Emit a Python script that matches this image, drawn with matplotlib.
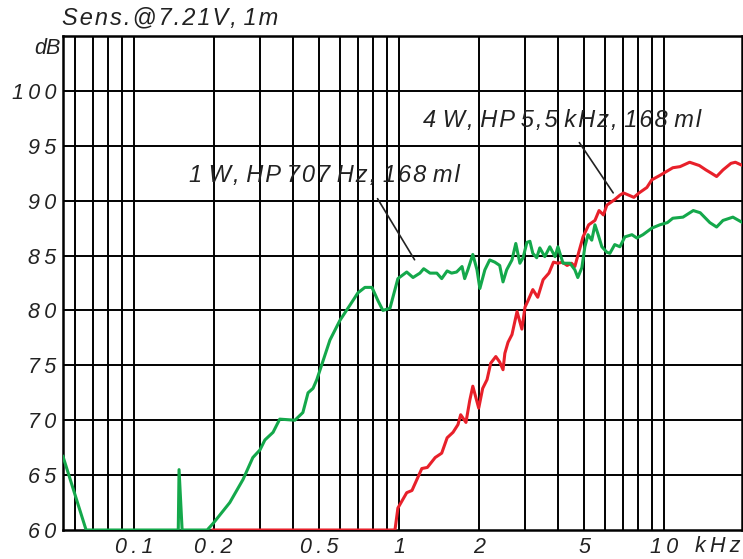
import numpy as np
import matplotlib.pyplot as plt
from matplotlib.ticker import FixedLocator, NullFormatter, NullLocator

plt.rcParams['font.family'] = ['Liberation Sans', 'DejaVu Sans']

# 1 W, HP 707 Hz (green), frequency in kHz, SPL in dB
freq_1w = [0.054, 0.066, 0.147, 0.148, 0.152, 0.189, 0.199, 0.230, 0.258, 0.281,
           0.299, 0.312, 0.335, 0.355, 0.405, 0.434, 0.454, 0.474, 0.490, 0.549,
           0.599, 0.654, 0.700, 0.744, 0.791, 0.833, 0.870, 0.925, 0.966, 0.991,
           1.07, 1.13, 1.20, 1.24, 1.31, 1.39, 1.45, 1.52, 1.58, 1.65,
           1.73, 1.77, 1.82, 1.90, 1.97, 2.02, 2.11, 2.20, 2.30, 2.40,
           2.47, 2.55, 2.67, 2.76, 2.86, 2.94, 3.04, 3.12, 3.20, 3.31,
           3.40, 3.55, 3.71, 3.88, 3.98, 4.16, 4.42, 4.61, 4.73, 4.90,
           5.03, 5.17, 5.34, 5.49, 5.63, 5.83, 6.09, 6.25, 6.52, 6.82,
           7.12, 7.57, 7.90, 8.33, 9.00, 9.65, 10.3, 10.8, 11.8, 12.9,
           13.7, 14.9, 15.8, 16.7, 18.2, 19.8]
spl_1w = [66.7, 60.0, 60.0, 65.5, 60.0, 60.0, 60.6, 62.5, 64.6, 66.6,
          67.3, 68.2, 68.9, 70.1, 70.0, 70.7, 72.5, 72.9, 73.7, 77.3,
          79.1, 80.5, 81.6, 82.1, 82.1, 80.9, 80.0, 80.2, 81.9, 82.9,
          83.5, 83.0, 83.4, 83.8, 83.4, 83.4, 82.9, 83.6, 83.4, 83.5,
          84.0, 82.9, 83.7, 85.1, 83.7, 82.0, 83.7, 84.6, 84.4, 84.1,
          82.6, 83.7, 84.6, 86.1, 84.3, 84.8, 86.2, 86.3, 85.2, 84.8,
          85.7, 84.9, 85.8, 84.9, 85.8, 84.3, 84.3, 83.7, 83.0, 83.9,
          85.8, 86.9, 86.4, 87.8, 87.0, 85.8, 85.3, 85.2, 86.0, 85.8,
          86.7, 86.9, 86.6, 86.9, 87.5, 87.8, 88.0, 88.4, 88.5, 89.1,
          88.9, 88.0, 87.6, 88.2, 88.5, 88.0]

# 4 W, HP 5,5 kHz (red)
freq_4w = [0.199, 0.966, 0.991, 1.07, 1.12, 1.22, 1.28, 1.37, 1.45, 1.52,
           1.60, 1.67, 1.71, 1.79, 1.85, 1.90, 2.00, 2.07, 2.15, 2.22,
           2.32, 2.40, 2.47, 2.51, 2.58, 2.67, 2.79, 2.91, 2.99, 3.07,
           3.20, 3.34, 3.50, 3.68, 3.83, 3.98, 4.14, 4.31, 4.48, 4.61,
           4.77, 4.95, 5.20, 5.49, 5.69, 5.91, 6.09, 6.52, 6.82, 7.04,
           7.37, 7.70, 8.05, 8.62, 9.00, 9.65, 10.8, 11.5, 12.5, 13.6,
           14.4, 15.1, 15.8, 16.7, 17.9, 18.6, 19.8]
spl_4w = [60.0, 60.0, 62.0, 63.4, 63.6, 65.6, 65.7, 66.6, 67.0, 68.4,
          68.9, 69.6, 70.5, 69.8, 71.8, 73.1, 71.1, 72.9, 73.7, 75.2,
          75.8, 75.3, 74.6, 76.1, 77.1, 77.8, 79.9, 78.3, 80.3, 80.9,
          81.9, 81.2, 82.8, 83.4, 84.4, 84.3, 84.4, 84.1, 84.3, 84.0,
          85.3, 86.7, 87.8, 88.2, 89.1, 88.7, 89.6, 90.1, 90.5, 90.7,
          90.5, 90.3, 90.7, 91.2, 91.9, 92.3, 93.0, 93.1, 93.5, 93.2,
          92.8, 92.5, 92.2, 92.8, 93.4, 93.5, 93.2]

x_ticks = [0.1, 0.2, 0.5, 1, 2, 5, 10]
x_labels = ["0.1", "0.2", "0.5", "1", "2", "5", "10"]
y_ticks = [60, 65, 70, 75, 80, 85, 90, 95, 100]

THIN = "\u2009"
HAIR = "\u200a"


def spaced(s, sep=THIN):
    return sep.join(s)


fig = plt.figure(figsize=(7.43, 5.59), dpi=100)
ax = fig.add_axes([63 / 743, 29 / 559, 679 / 743, 494 / 559])

ax.plot(freq_4w, spl_4w, color="#e8202a", lw=2.2, solid_joinstyle="round", zorder=3)
ax.plot(freq_1w, spl_1w, color="#14a84b", lw=2.2, solid_joinstyle="round", zorder=4)

ax.set_xscale("log")
ax.set_xlim(0.054, 19.7)
ax.set_ylim(60, 105)

# grid: every 1-2-3.. per decade, every 5 dB
grid_x = [0.06, 0.07, 0.08, 0.09] + [m * 10.0 ** e for e in (-1, 0) for m in range(1, 10)] + [10]
for gx in grid_x:
    ax.axvline(gx, color="black", lw=1.4, zorder=1)
for gy in y_ticks[1:]:
    ax.axhline(gy, color="black", lw=1.4, zorder=1)

ax.xaxis.set_major_locator(FixedLocator(x_ticks))
ax.xaxis.set_minor_locator(NullLocator())
ax.xaxis.set_minor_formatter(NullFormatter())
ax.set_xticklabels([spaced(s) for s in x_labels])
ax.set_yticks(y_ticks)
ax.set_yticklabels([spaced(str(v)) for v in y_ticks])
ax.tick_params(length=0, labelsize=15.5, pad=5)
for lab in ax.get_xticklabels() + ax.get_yticklabels():
    lab.set_fontstyle("italic")
    lab.set_color("#222222")

for sp in ax.spines.values():
    sp.set_linewidth(1.8)

tkw = dict(fontstyle="italic", color="#222222")
fig.text(62 / 743, 1 - 18 / 559, spaced("Sens.@7.21V,", HAIR) + " " + spaced("1m", HAIR),
         ha="left", va="center", fontsize=17, **tkw)
fig.text(61 / 743, 1 - 48 / 559, "dB", ha="right", va="center", fontsize=15.5, **tkw)
ax.text(0.965, -0.033, spaced("kHz"), transform=ax.transAxes, ha="center", va="center",
        fontsize=15.5, **tkw)

lab1 = " ".join(spaced(w, HAIR) for w in "1 W, HP 707 Hz, 168 ml".split(" "))
lab2 = " ".join(spaced(w, HAIR) for w in "4 W, HP 5,5 kHz, 168 ml".split(" "))
ax.text(0.521, 92.3, lab1, ha="center", va="center", fontsize=17, **tkw)
ax.text(4.12, 97.3, lab2, ha="center", va="center", fontsize=17, **tkw)
ax.annotate("", xy=(1.16, 84.4), xytext=(0.82, 90.4),
            arrowprops=dict(arrowstyle="-", color="#222222", lw=1.2))
ax.annotate("", xy=(6.52, 90.5), xytext=(4.73, 95.5),
            arrowprops=dict(arrowstyle="-", color="#222222", lw=1.2))

fig.savefig("out.png", dpi=100)
